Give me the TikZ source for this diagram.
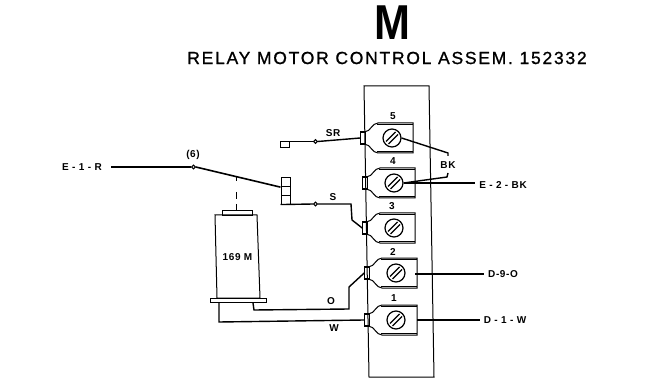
\documentclass[tikz,border=0pt]{standalone}
\usepackage{fontspec}
\setmainfont{Liberation Sans}
\newfontfamily\titlefont[LetterSpace=10,FakeBold=1]{Liberation Sans}
\newfontfamily\labelfont[LetterSpace=6]{Liberation Sans}
\usetikzlibrary{positioning}
\begin{document}
\begin{tikzpicture}
	[x=1pt, y=-1pt, inner sep=0pt,
	screw/.style	= {circle,draw,line width=1.2pt,minimum size=18pt},
	lug/.style		= {rectangle,draw,line width=1.1pt,minimum width=4.5pt,minimum height=12pt},
	relay/.style	= {rectangle,draw,line width=1pt,minimum width=9pt,minimum height=8.7pt},
	joint/.style	= {circle,draw,fill=white,line width=1pt,minimum size=3.6pt},
	housing/.style	= {rectangle,draw,line width=1pt},
	wire/.style		= {line width=1.4pt},
	outline/.style	= {line width=1pt},
	tag/.style		= {font=\labelfont\bfseries\fontsize{10}{10}\selectfont},
	terminal/.pic	= {
		\node at (0,0)		[screw]	(screw)	{};
		\node at (-29,0)	[lug]	(lug)	{};
		\draw [outline] (lug.north east) .. controls (-22,-6) and (-20,-15) .. (-14,-15) -- (21,-15) -- (21,15) -- (-14,15) .. controls (-20,15) and (-22,6) .. (lug.south east);
		\draw [line width=1.4pt] (-15,-13.6) -- (21,-13.6);
		\draw [line width=1.4pt] (-15,13.6) -- (21,13.6);
		\draw [line width=1.1pt] (-6,3.5) -- (3.5,-6);
		\draw [line width=1.1pt] (-3.5,6) -- (6,-3.5);
	}]

	\useasboundingbox (0,0) rectangle (661,390);

	\node at (392.5, 23)	[font=\bfseries\fontsize{49}{49}\selectfont, xscale=0.88]	(letter)	{M};
	\node at (387, 58)		[font=\titlefont\fontsize{17.5}{18}\selectfont]	(title)	{RELAY MOTOR CONTROL ASSEM. 152332};

	% panel
	\draw [line width=1pt] (364, 86) -- (429, 86) -- (434, 377) -- (369, 377) -- cycle;

	\pic (t5) at (392, 138)	{terminal};
	\pic (t4) at (394, 183)	{terminal};
	\pic (t3) at (394, 228)	{terminal};
	\pic (t2) at (396, 273)	{terminal};
	\pic (t1) at (396, 320)	{terminal};

	\node at (393, 116)		[tag]	(n5)	{5};
	\node at (393, 161)		[tag]	(n4)	{4};
	\node at (392, 206)		[tag]	(n3)	{3};
	\node at (393, 252)		[tag]	(n2)	{2};
	\node at (394, 298)		[tag]	(n1)	{1};

	% relay contacts
	\node at (285, 145)		[relay, minimum height=6pt]	(top)	{};
	\node at (285.5, 182.3)	[relay]	(c1)	{};
	\node at (285.5, 191)	[relay]	(c2)	{};
	\node at (285.5, 199.7)	[relay]	(c3)	{};

	\node at (193.5, 167)	[joint]	(j6)	{};
	\node at (315.5, 141.5)	[joint]	(jsr)	{};
	\node at (315.5, 204)	[joint]	(js)	{};

	% motor
	\node at (237, 213)		[housing, minimum width=30pt, minimum height=4.5pt]	(cap)	{};
	\node at (238, 300.5)	[housing, minimum width=56pt, minimum height=4.5pt]	(base)	{};
	\node at (237.5, 257)	[tag]	(motor)	{169 M};
	\draw [outline] (215, 215) -- (257, 215) -- (260, 298) -- (217, 298) -- cycle;

	\node at (82, 167)		[tag]	(er)	{E - 1 - R};
	\node at (193, 155)		[tag]	(six)	{(6)};
	\node at (333, 133)		[tag]	(sr)	{SR};
	\node at (333, 197)		[tag]	(s)		{S};
	\node at (331, 301)		[tag]	(o)		{O};
	\node at (334, 328)		[tag]	(w)		{W};
	\node at (448, 165)		[tag]	(bk)	{BK};
	\node at (503, 185)		[tag]	(ebk)	{E - 2 - BK};
	\node at (503, 274)		[tag]	(do)	{D-9-O};
	\node at (505, 320)		[tag]	(dw)	{D - 1 - W};

	\coordinate (arm) at (236, 177);

	\draw [wire, shorten <=9pt] (er.east) -- (j6.west);
	\draw [wire, line width=1.6pt] (j6.east) -- (c1.south west);
	\draw [line width=1pt, dash pattern=on 4pt off 11pt on 7pt off 5pt on 7pt off 9pt] (arm) -- (cap.north -| arm);

	\draw [wire] (top.north east) -- (jsr.west);
	\draw [wire] (jsr.east) -- (t5lug.west);
	\draw [wire] (c3.south west) -- (js.west);
	\draw [wire] (js.east) -- (351, 204) -- (352, 220) -- (t3lug.west);

	\draw [wire] (253, 303) -- (254, 310) -- (349, 309) -- (349, 287) -- (t2lug.west);
	\draw [wire] (219, 303) -- (219, 322) -- (t1lug.west);

	\draw [wire] (t5screw.east) -- (448, 153) -- (448, 156);
	\draw [wire] (t4screw.east) -- (447, 177) -- (448, 173);
	\draw [wire, line width=2pt, shorten >=4pt] (t4screw.east) -- (t4screw.east -| ebk.west);
	\draw [wire, shorten >=4pt] (415, 274) -- (do.west);
	\draw [wire, line width=1.8pt, shorten >=4pt] (417, 320) -- (dw.west);
\end{tikzpicture}
\end{document}
